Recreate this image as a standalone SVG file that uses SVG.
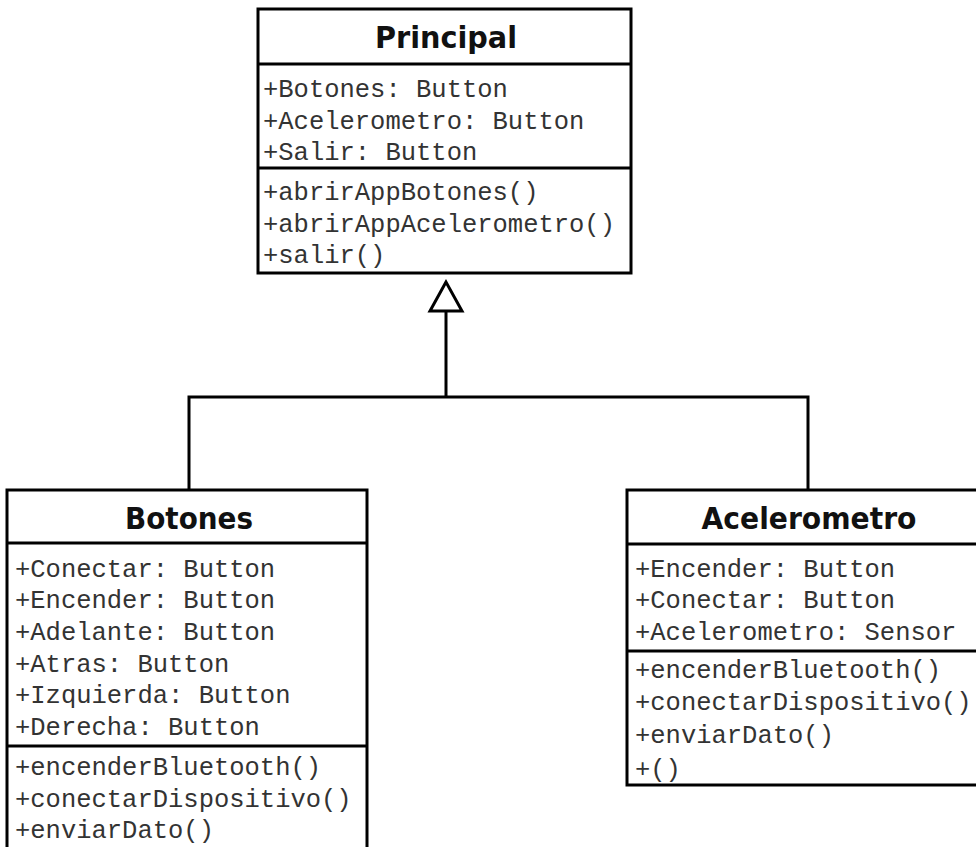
<svg xmlns="http://www.w3.org/2000/svg" width="976" height="847" viewBox="0 0 976 847">
<style>
.box{fill:#fff;stroke:#000;stroke-width:3}
.div{stroke:#000;stroke-width:3}
.title{font-family:"DejaVu Sans","Liberation Sans",sans-serif;font-weight:bold;font-size:31px;fill:#111;text-anchor:middle}
.m{font-family:"Liberation Mono","Courier New",monospace;font-size:25.5px;fill:#333}
.conn{fill:none;stroke:#000;stroke-width:3}
</style>
<rect width="976" height="847" fill="#fff"/>
<g id="connectors">
<polyline class="conn" points="189,490 189,397 808,397 808,490"/>
<line class="conn" x1="446" y1="397" x2="446" y2="311"/>
<polygon points="446,282 430,311 462,311" fill="#fff" stroke="#000" stroke-width="3"/>
</g>
<g id="principal">
<rect class="box" x="258" y="9" width="373" height="264"/>
<line class="div" x1="258" y1="64" x2="631" y2="64"/>
<line class="div" x1="258" y1="168" x2="631" y2="168"/>
<text class="title" x="446" y="48" textLength="142" lengthAdjust="spacingAndGlyphs">Principal</text>
<text class="m" x="263" y="97">+Botones: Button</text>
<text class="m" x="263" y="129">+Acelerometro: Button</text>
<text class="m" x="263" y="160">+Salir: Button</text>
<text class="m" x="263" y="200">+abrirAppBotones()</text>
<text class="m" x="263" y="232">+abrirAppAcelerometro()</text>
<text class="m" x="263" y="263">+salir()</text>
</g>
<g id="botones">
<rect class="box" x="7" y="490" width="360" height="380"/>
<line class="div" x1="7" y1="543" x2="367" y2="543"/>
<line class="div" x1="7" y1="746" x2="367" y2="746"/>
<text class="title" x="189" y="529" textLength="128" lengthAdjust="spacingAndGlyphs">Botones</text>
<text class="m" x="15" y="577">+Conectar: Button</text>
<text class="m" x="15" y="608">+Encender: Button</text>
<text class="m" x="15" y="640">+Adelante: Button</text>
<text class="m" x="15" y="672">+Atras: Button</text>
<text class="m" x="15" y="703">+Izquierda: Button</text>
<text class="m" x="15" y="735">+Derecha: Button</text>
<text class="m" x="15" y="775">+encenderBluetooth()</text>
<text class="m" x="15" y="807">+conectarDispositivo()</text>
<text class="m" x="15" y="838">+enviarDato()</text>
</g>
<g id="acelerometro">
<rect class="box" x="627" y="490" width="370" height="295"/>
<line class="div" x1="627" y1="544" x2="997" y2="544"/>
<line class="div" x1="627" y1="651" x2="997" y2="651"/>
<text class="title" x="809" y="529" textLength="215" lengthAdjust="spacingAndGlyphs">Acelerometro</text>
<text class="m" x="635" y="577">+Encender: Button</text>
<text class="m" x="635" y="608">+Conectar: Button</text>
<text class="m" x="635" y="640">+Acelerometro: Sensor</text>
<text class="m" x="635" y="678">+encenderBluetooth()</text>
<text class="m" x="635" y="710">+conectarDispositivo()</text>
<text class="m" x="635" y="743">+enviarDato()</text>
<text class="m" x="635" y="777">+()</text>
</g>
</svg>
